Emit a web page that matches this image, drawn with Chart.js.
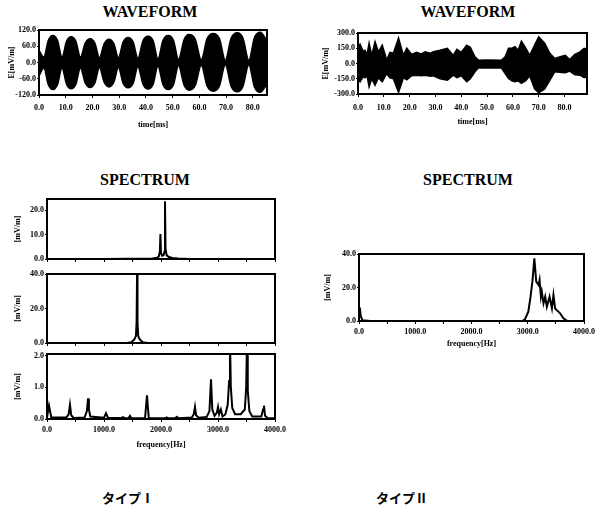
<!DOCTYPE html>
<html lang="ja">
<head>
<meta charset="UTF-8">
<title>Waveform / Spectrum</title>
<script src="https://cdn.jsdelivr.net/npm/chart.js"></script>
<style>
    body {
        margin: 0;
        width: 601px;
        height: 507px;
        background: #fff;
        position: relative;
        overflow: hidden;
    }
    .ttl {
        position: absolute;
        transform: translate(-50%, -50%);
        font-family: 'Liberation Serif', serif;
        font-weight: bold;
        font-size: 16px;
        color: #000;
        white-space: nowrap;
    }
    .typ {
        position: absolute;
        transform: translate(-50%, -50%);
        font-family: 'Noto Sans CJK JP', sans-serif;
        font-weight: bold;
        font-size: 13px;
        color: #000;
        white-space: nowrap;
    }
    canvas { position: absolute; }
</style>
</head>
<body>

<div class="ttl" style="left:150px; top:12px;">WAVEFORM</div>
<div class="ttl" style="left:468px; top:12px;">WAVEFORM</div>
<div class="ttl" style="left:145px; top:180px;">SPECTRUM</div>
<div class="ttl" style="left:468px; top:180px;">SPECTRUM</div>
<div class="typ" style="left:128px; top:497px;">タイプⅠ</div>
<div class="typ" style="left:402px; top:497px;">タイプⅡ</div>

<script>
// ---- data ----

// type I waveform: envelope of the beating signal (ms, mV/m)
const wave1Time  = [0, 1.8, 3.5, 5.2, 6.9, 8.6, 10.3, 12.0, 13.8, 15.5, 17.3, 19.1, 20.9, 22.6, 24.4, 26.2, 28.0, 29.7, 31.5, 33.3, 35.2, 37.0, 38.9, 40.8, 42.7, 44.5, 46.4, 48.3, 50.3, 52.2, 54.3, 56.2, 58.5, 60.7, 62.9, 65.2, 67.5, 69.7, 71.9, 74.2, 76.3, 78.5, 80.6, 82.8, 85.3];
const wave1Upper = [45, 20, 82, 100, 82, 20, 78, 95, 78, 20, 72, 88, 72, 18, 70, 86, 70, 18, 76, 92, 76, 16, 80, 97, 80, 14, 82, 100, 82, 12, 85, 103, 85, 10, 88, 107, 88, 8, 90, 110, 90, 8, 92, 112, 80];
const wave1Lower = [-50, -20, -82, -100, -82, -20, -80, -97, -80, -20, -75, -92, -75, -18, -73, -90, -73, -18, -77, -93, -77, -16, -80, -98, -80, -14, -82, -100, -82, -12, -84, -102, -84, -10, -87, -106, -87, -8, -88, -108, -88, -8, -90, -110, -80];

// type II waveform envelope
const wave2Time  = [0, 0.8, 2.0, 2.7, 3.5, 4.3, 5.3, 6.6, 7.9, 9.4, 11.1, 12.4, 13.7, 15.7, 17.6, 18.9, 20.8, 22.7, 24.5, 26.0, 28.0, 29.2, 31.8, 34.6, 36.9, 38.3, 40.0, 42.1, 43.5, 45.3, 46.6, 50.0, 55.6, 57.0, 58.3, 59.6, 60.8, 62.0, 63.3, 65.0, 66.5, 68.4, 70.0, 72.3, 74.3, 76.2, 78.0, 80.3, 82.0, 84.0, 86.0, 87.6, 88.7];
const wave2Upper = [150, 190, 120, 130, 90, 200, 80, 215, 115, 180, 35, 110, 100, 250, 80, 150, 90, 110, 95, 115, 100, 115, 130, 150, 80, 140, 110, 180, 160, 65, 33, 35, 33, 65, 150, 150, 165, 130, 220, 150, 80, 180, 262, 200, 100, 50, 65, 80, 40, 90, 115, 150, 140];
const wave2Lower = [-150, -180, -130, -140, -120, -230, -150, -215, -140, -180, -100, -140, -150, -285, -140, -160, -120, -115, -120, -115, -125, -120, -150, -165, -115, -140, -120, -180, -150, -82, -45, -43, -45, -100, -148, -170, -180, -170, -195, -170, -120, -250, -288, -250, -165, -82, -85, -90, -75, -110, -115, -140, -130];

// type I spectra (Hz, mV/m)
const spec1Freq = [0, 1000, 1850, 1930, 1960, 1980, 1990, 2000, 2020, 2045, 2060, 2070, 2080, 2100, 2140, 2200, 2300, 2500, 4000];
const spec1Amp  = [0, 0, 0.2, 0.5, 1.0, 3.0, 10.3, 2.5, 1.3, 1.5, 3.0, 23.8, 4.0, 1.5, 0.8, 0.4, 0.2, 0, 0];

const spec2Freq = [0, 1400, 1480, 1530, 1560, 1572, 1580, 1588, 1600, 1630, 1680, 1760, 4000];
const spec2Amp  = [0, 0, 0.5, 2, 4, 12, 39.8, 12, 4, 2, 0.5, 0, 0];

const spec3Freq = [0, 35, 75, 340, 380, 403, 425, 470, 660, 700, 720, 735, 760, 1000, 1035, 1070, 1300, 1333, 1370, 1430, 1456, 1480, 1720, 1754, 1785, 2080, 2100, 2130, 2250, 2280, 2310, 2540, 2575, 2596, 2615, 2660, 2800, 2850, 2877, 2900, 2940, 2980, 3000, 3020, 3050, 3080, 3130, 3170, 3195, 3210, 3225, 3250, 3300, 3400, 3470, 3495, 3509, 3522, 3550, 3600, 3760, 3790, 3807, 3825, 3870, 4000];
const spec3Amp  = [0.05, 0.42, 0.05, 0.05, 0.15, 0.45, 0.12, 0.03, 0.05, 0.25, 0.65, 0.3, 0.08, 0.04, 0.18, 0.04, 0.03, 0.06, 0.02, 0.03, 0.1, 0.02, 0.03, 0.75, 0.03, 0.02, 0.05, 0.02, 0.03, 0.07, 0.02, 0.05, 0.15, 0.38, 0.12, 0.04, 0.06, 0.25, 1.25, 0.3, 0.1, 0.2, 0.38, 0.15, 0.3, 0.08, 0.15, 0.45, 1.2, 2.6, 1.0, 0.35, 0.15, 0.15, 0.3, 1.0, 2.6, 0.9, 0.25, 0.08, 0.08, 0.3, 0.42, 0.1, 0.03, 0.02];

// type II spectrum
const spec4Freq = [0, 15, 30, 60, 200, 2900, 2950, 3010, 3050, 3086, 3100, 3117, 3151, 3192, 3210, 3234, 3250, 3280, 3310, 3340, 3388, 3430, 3457, 3487, 3516, 3575, 3634, 3693, 4000];
const spec4Amp  = [4, 8, 3, 0.5, 0, 0, 1, 5.6, 14.5, 24.5, 30.4, 37.4, 23.5, 21.5, 24.5, 14.5, 17.5, 10.5, 14.5, 8.5, 14.5, 7.5, 15.5, 7.5, 6.5, 4.6, 1.6, 0.2, 0];

// tick values
const timeTicks = [0, 10, 20, 30, 40, 50, 60, 70, 80];
const freqTicks = [0, 500, 1000, 1500, 2000, 2500, 3000, 3500, 4000];
const wave1YTicks = [-120, -60, 0, 60, 120];
const wave2YTicks = [-300, -150, 0, 150, 300];
const spec1YTicks = [0, 10, 20];
const spec2YTicks = [0, 20, 40];
const spec3YTicks = [0, 1, 2];
const spec4YTicks = [0, 20, 40];

// ---- drawing ----
const tickFont = { family: 'Liberation Serif', size: 8, weight: 'bold' };
const titleFont = { family: 'Liberation Serif', size: 8, weight: 'bold' };

const frame = {
    id: 'frame',
    afterDraw(chart) {
        const { ctx, chartArea: a } = chart;
        ctx.save();
        ctx.lineWidth = 2;
        ctx.strokeStyle = '#000';
        ctx.strokeRect(a.left, a.top, a.right - a.left, a.bottom - a.top);
        ctx.restore();
    }
};

function pts(xs, ys) {
    return xs.map((x, i) => ({ x: x, y: ys[i] }));
}

function panel(box, datasets, xo, yo) {
    const PT = 4;
    const PR = xo.labels ? 16 : 8;
    const w = box.r - box.l + box.yw + PR;
    const h = box.b - box.t + PT + box.xh;
    const cv = document.createElement('canvas');
    cv.width = w;
    cv.height = h;
    cv.style.left = (box.l - box.yw) + 'px';
    cv.style.top = (box.t - PT) + 'px';
    document.body.appendChild(cv);

    new Chart(cv, {
        type: 'line',
        data: { datasets: datasets },
        options: {
            responsive: false,
            animation: false,
            layout: { padding: { top: PT, right: PR, left: 0, bottom: 0 } },
            plugins: { legend: { display: false }, tooltip: { enabled: false } },
            elements: { point: { radius: 0 } },
            scales: {
                x: {
                    type: 'linear',
                    min: 0,
                    max: xo.max,
                    afterBuildTicks: s => { s.ticks = xo.ticks.map(v => ({ value: v })); },
                    afterFit: s => { s.height = box.xh; s.paddingLeft = 0; s.paddingRight = 0; },
                    ticks: {
                        autoSkip: false,
                        maxRotation: 0,
                        padding: xo.pad || 3,
                        color: '#000',
                        font: tickFont,
                        callback: v => (xo.labels && v % xo.every === 0) ? v.toFixed(1) : ''
                    },
                    grid: { drawOnChartArea: false, tickLength: 3, color: '#000' },
                    border: { display: false },
                    title: {
                        display: !!xo.title,
                        text: xo.title,
                        color: '#000',
                        font: titleFont,
                        padding: 0
                    }
                },
                y: {
                    min: yo.min,
                    max: yo.max,
                    afterBuildTicks: s => { s.ticks = yo.ticks.map(v => ({ value: v })); },
                    afterFit: s => { s.width = box.yw; s.paddingTop = 0; s.paddingBottom = 0; },
                    ticks: {
                        padding: 1,
                        color: '#000',
                        font: tickFont,
                        callback: v => v.toFixed(1)
                    },
                    grid: { drawOnChartArea: false, tickLength: 2, color: '#000' },
                    border: { display: false },
                    title: {
                        display: true,
                        text: yo.title,
                        color: '#000',
                        font: titleFont,
                        padding: 0
                    }
                }
            }
        },
        plugins: [frame]
    });
}

function envelope(t, up, lo, smooth) {
    return [
        { data: pts(t, up), borderColor: '#000', backgroundColor: '#000', borderWidth: 1.5,
          fill: '+1', cubicInterpolationMode: smooth ? 'monotone' : 'default', tension: 0 },
        { data: pts(t, lo), borderColor: '#000', borderWidth: 1.5, fill: false,
          cubicInterpolationMode: smooth ? 'monotone' : 'default', tension: 0 }
    ];
}

function spectrum(f, a) {
    return [{ data: pts(f, a), borderColor: '#000', borderWidth: 2, fill: false, tension: 0 }];
}

// type I waveform
panel({ l: 39, t: 30, r: 267, b: 95, yw: 32, xh: 35 },
    envelope(wave1Time, wave1Upper, wave1Lower, true),
    { max: 85.3, ticks: timeTicks, labels: true, every: 10, pad: 5, title: 'time[ms]' },
    { min: -120, max: 120, ticks: wave1YTicks, title: 'E[mV/m]' });

// type II waveform
panel({ l: 358, t: 33, r: 587, b: 94, yw: 37, xh: 33 },
    envelope(wave2Time, wave2Upper, wave2Lower, false),
    { max: 88.7, ticks: timeTicks, labels: true, every: 10, pad: 6, title: 'time[ms]' },
    { min: -300, max: 300, ticks: wave2YTicks, title: 'E[mV/m]' });

// type I spectra
panel({ l: 47, t: 199, r: 275, b: 259, yw: 34, xh: 4 },
    spectrum(spec1Freq, spec1Amp),
    { max: 4000, ticks: freqTicks, labels: false },
    { min: 0, max: 24.7, ticks: spec1YTicks, title: '[mV/m]' });

panel({ l: 47, t: 274, r: 275, b: 343, yw: 34, xh: 4 },
    spectrum(spec2Freq, spec2Amp),
    { max: 4000, ticks: freqTicks, labels: false },
    { min: 0, max: 40, ticks: spec2YTicks, title: '[mV/m]' });

panel({ l: 47, t: 354, r: 275, b: 419, yw: 34, xh: 31 },
    spectrum(spec3Freq, spec3Amp),
    { max: 4000, ticks: freqTicks, labels: true, every: 1000, pad: 3, title: 'frequency[Hz]' },
    { min: 0, max: 2.05, ticks: spec3YTicks, title: '[mV/m]' });

// type II spectrum
panel({ l: 359, t: 254, r: 584, b: 321, yw: 36, xh: 28 },
    spectrum(spec4Freq, spec4Amp),
    { max: 4000, ticks: freqTicks, labels: true, every: 1000, pad: 3, title: 'frequency[Hz]' },
    { min: 0, max: 40, ticks: spec4YTicks, title: '[mV/m]' });
</script>
</body>
</html>
